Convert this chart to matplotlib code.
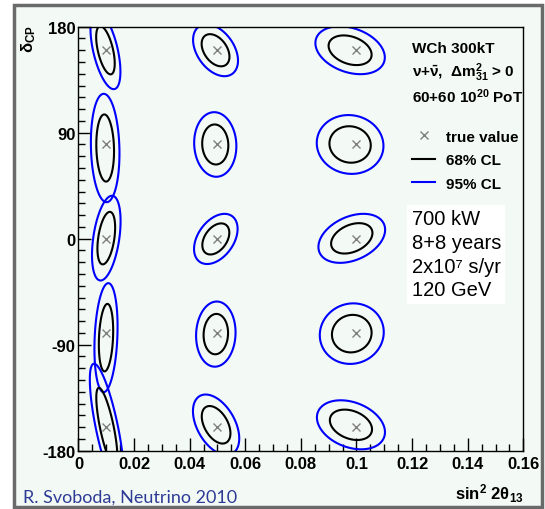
import numpy as np
import matplotlib
matplotlib.use('Agg')
import matplotlib.pyplot as plt
from matplotlib.lines import Line2D
from matplotlib.patches import Rectangle
from matplotlib.ticker import MultipleLocator, FuncFormatter

plt.rcParams['font.family'] = ['Liberation Sans', 'DejaVu Sans']
plt.rcParams['font.weight'] = 'bold'
plt.rcParams['mathtext.default'] = 'regular'
plt.rcParams['axes.unicode_minus'] = False

# true oscillation parameters
s2t13_true = [0.01, 0.05, 0.10]
dcp_true = [160, 80, 0, -80, -160]

# fitted centres and 1 sigma widths: rows follow s2t13_true, columns follow dcp_true
fit_s2t13 = [[0.0097, 0.0096, 0.0100, 0.0099, 0.0102],
             [0.0493, 0.0492, 0.0494, 0.0494, 0.0495],
             [0.0977, 0.0977, 0.0983, 0.0983, 0.0980]]
fit_dcp = [[160, 77, 0.5, -84, -160],
           [160, 80, -0.2, -81, -158],
           [160, 80, 0.3, -80.6, -158]]
sig_s2t13 = [[0.0022, 0.0021, 0.0021, 0.0017, 0.0025],
             [0.0033, 0.0031, 0.0032, 0.0029, 0.0034],
             [0.0051, 0.0049, 0.0049, 0.0047, 0.0050]]
sig_dcp = [[13.5, 18.8, 14.7, 18.9, 22.0],
           [9.0, 11.2, 8.7, 11.3, 10.5],
           [8.3, 10.2, 8.5, 10.5, 8.5]]
corr = [[-0.55, -0.1, 0.4, 0.2, -0.75],
        [-0.4, -0.05, 0.4, 0.05, -0.45],
        [-0.3, -0.05, 0.35, 0.05, -0.3]]

# delta chi2 for two parameters: 68% and 95% CL
cl_levels = [2.30, 5.99]
cl_colors = ['black', 'blue']
cl_labels = ['68% CL', '95% CL']

fig = plt.figure(figsize=(5.45, 5.10), dpi=100, facecolor='white')
fig.add_artist(Rectangle((0.0264, 0.003), 0.9675, 0.9843, transform=fig.transFigure,
                         facecolor='#f3faf5', edgecolor='#6a6a6a', lw=2.5, zorder=-10))

ax = fig.add_axes([0.144, 0.1143, 0.8162, 0.8314])
ax.patch.set_visible(False)

# chi2 surface around each true point
s2_grid = np.linspace(0, 0.16, 801)
dcp_grid = np.linspace(-200, 200, 801)
S, D = np.meshgrid(s2_grid, dcp_grid)
for i in range(len(s2t13_true)):
    for j in range(len(dcp_true)):
        dx = (S - fit_s2t13[i][j]) / sig_s2t13[i][j]
        dy = (D - fit_dcp[i][j]) / sig_dcp[i][j]
        r = corr[i][j]
        chi2 = (dx**2 - 2 * r * dx * dy + dy**2) / (1 - r**2)
        ax.contour(S, D, chi2, levels=cl_levels, colors=cl_colors, linewidths=1.5)

TS, TD = np.meshgrid(s2t13_true, dcp_true)
ax.plot(TS.ravel(), TD.ravel(), ls='none', marker='x', color='#808080', ms=6, mew=1)

ax.set_xlim(0, 0.16)
ax.set_ylim(-180, 180)
ax.xaxis.set_major_locator(MultipleLocator(0.02))
ax.xaxis.set_minor_locator(MultipleLocator(0.005))
ax.yaxis.set_major_locator(MultipleLocator(90))
ax.yaxis.set_minor_locator(MultipleLocator(10))
ax.xaxis.set_major_formatter(FuncFormatter(lambda v, p: '%g' % round(v, 4)))
ax.yaxis.set_major_formatter(FuncFormatter(lambda v, p: '%g' % v))
ax.tick_params(which='both', direction='in', top=False, right=False, width=1, labelsize=12)
ax.tick_params(which='major', length=9.5)
ax.tick_params(which='minor', length=5)
ax.tick_params(axis='x', pad=4)
ax.tick_params(axis='y', pad=2)
for sp in ax.spines.values():
    sp.set_linewidth(1.0)

fig.text(29 / 545, 1 - 25 / 510, r'$\delta_{CP}$', rotation=90, ha='center', va='top', fontsize=12)
fig.text(523.3 / 545, 1 - 499.3 / 510, r'sin$^{2}$ 2$\theta_{13}$', ha='right', va='baseline', fontsize=12)

# run description
ax.text(0.75, 0.940, 'WCh 300kT', transform=ax.transAxes, fontsize=11, va='baseline')
ax.text(0.75, 0.884, r'$\nu{+}\bar{\nu}$,  $\Delta m^{2}_{31}$ > 0', transform=ax.transAxes, fontsize=11, va='baseline')
ax.text(0.75, 0.822, r'60+60 10$^{20}$ PoT', transform=ax.transAxes, fontsize=11, va='baseline')

handles = [Line2D([], [], ls='none', marker='x', color='#808080', ms=6, mew=1)]
handles += [Line2D([], [], color=c, lw=1.5) for c in cl_colors]
ax.legend(handles, ['true value'] + cl_labels, loc='upper left', bbox_to_anchor=(0.75, 0.757),
          frameon=False, prop=dict(weight='bold', size=11), handlelength=1.5, handletextpad=0.7,
          labelspacing=0.62, borderpad=0, borderaxespad=0)

ax.text(0.749, 0.570, '700 kW\n8+8 years\n2x10\u2077 s/yr\n120 GeV', transform=ax.transAxes,
        fontsize=14.5, fontweight='normal', linespacing=1.32, va='top', ha='left',
        bbox=dict(facecolor='white', edgecolor='none', pad=3))

fig.text(22.7 / 545, 1 - 503 / 510, 'R. Svoboda, Neutrino 2010', color='#2e3b96', fontsize=13,
         family='Lato', fontweight='normal', va='baseline')

fig.savefig('out.png', dpi=100, facecolor='white')
